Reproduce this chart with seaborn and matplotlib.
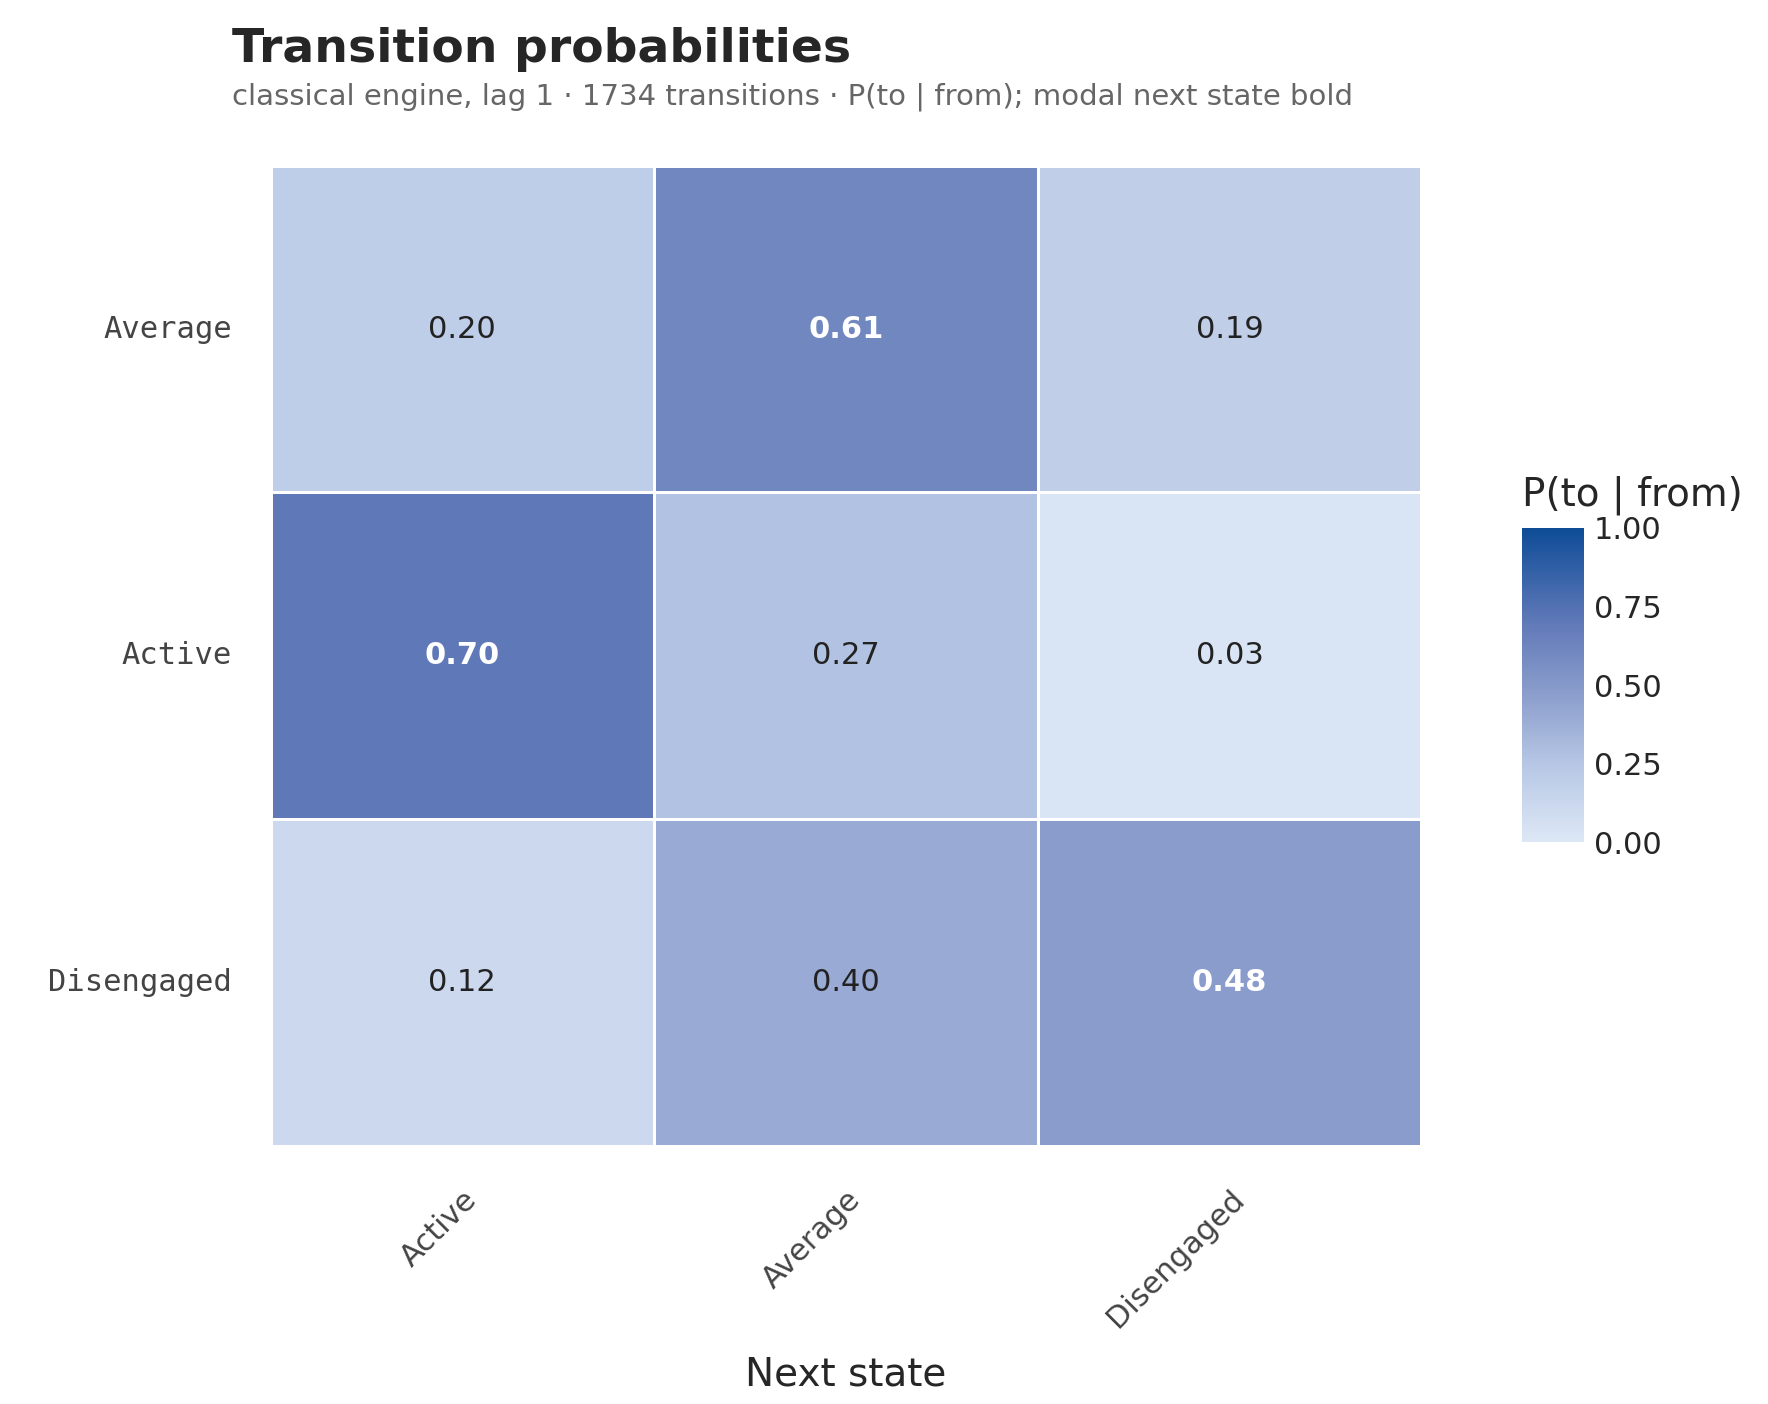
import matplotlib
matplotlib.use("Agg")
import matplotlib.pyplot as plt
import seaborn as sns
import numpy as np
import pandas as pd
from matplotlib.colors import LinearSegmentedColormap

from_states = ["Average", "Active", "Disengaged"]
to_states = ["Active", "Average", "Disengaged"]
probs = [[0.20, 0.61, 0.19],
         [0.70, 0.27, 0.03],
         [0.12, 0.40, 0.48]]

df = pd.DataFrame(probs, index=from_states, columns=to_states)
sns.set_theme(style="white")
plt.rcParams['font.family'] = ['DejaVu Sans']

cmap = LinearSegmentedColormap.from_list("b", [(0, "#dde8f6"), (0.25, "#b6c6e4"), (0.48, "#899ccb"),
                                               (0.7, "#6079b8"), (1.0, "#0e4c97")])
fig = plt.figure(figsize=(8.84, 7.02), dpi=200)
ax = fig.add_axes([0.153, 0.184, 0.651, 0.698])
cax = fig.add_axes([0.861, 0.400, 0.035, 0.224])
sns.heatmap(df, ax=ax, cbar_ax=cax, cmap=cmap, vmin=0, vmax=1, linewidths=1, linecolor="white",
            annot=False)
arr = np.array(probs)
for i in range(3):
    m = arr[i].argmax()
    for j in range(3):
        if j == m:
            ax.text(j + 0.5, i + 0.5, f"{arr[i, j]:.2f}", ha="center", va="center",
                    color="white", fontweight="bold", fontsize=11)
        else:
            ax.text(j + 0.5, i + 0.5, f"{arr[i, j]:.2f}", ha="center", va="center",
                    color="#222222", fontsize=11)
ax.set_xlabel("Next state", fontsize=14, labelpad=8)
ax.set_ylabel("")
ax.set_xticklabels(to_states, rotation=45, ha="right", rotation_mode="anchor", fontsize=11, color="#444444")
ax.set_yticklabels(from_states, rotation=0, fontsize=11, color="#444444", family="DejaVu Sans Mono")
ax.tick_params(axis="both", length=0, pad=14)
cax.set_title("P(to | from)", fontsize=14, loc="left", pad=8)
cax.set_yticks([0, 0.25, 0.5, 0.75, 1.0])
cax.set_yticklabels(["0.00", "0.25", "0.50", "0.75", "1.00"])
cax.tick_params(labelsize=11, length=3, color="white", direction="in")
fig.text(0.131, 0.965, "Transition probabilities", fontsize=17, fontweight="bold", va="center")
fig.text(0.131, 0.931, "classical engine, lag 1 · 1734 transitions · P(to | from); modal next state bold",
         fontsize=10.5, color="#666666", va="center")
fig.savefig("out.png", dpi=200)
